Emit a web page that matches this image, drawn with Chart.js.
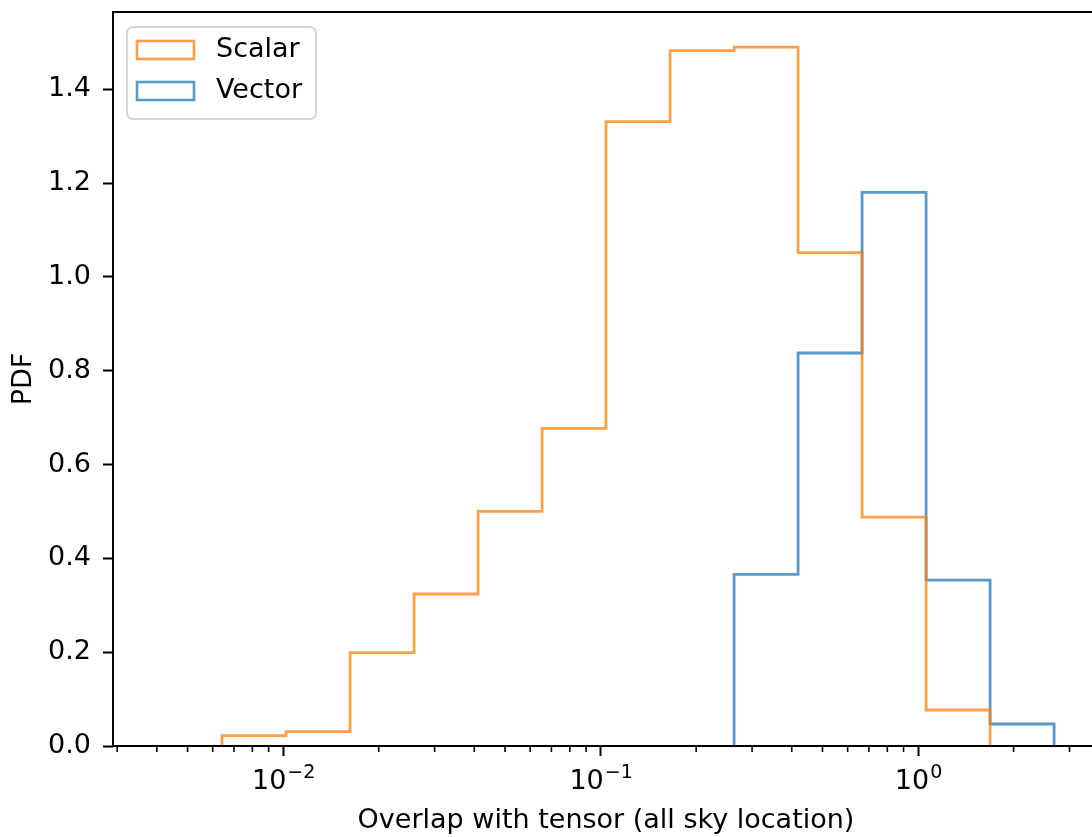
<!DOCTYPE html>
<html>
<head>
<meta charset="utf-8">
<title>Overlap with tensor</title>
<script src="https://cdn.jsdelivr.net/npm/chart.js@4.4.1/dist/chart.umd.min.js"></script>
<style>
    html, body { margin: 0; padding: 0; background: #fff; overflow: hidden; }
    #wrap { width: 1092px; height: 837px; overflow: hidden; }
    canvas { display: block; }
</style>
</head>
<body>
<div id="wrap"><canvas id="histChart" width="1110" height="837"></canvas></div>
<script>
// 分箱边界（对数均匀）
const binEdges = [0.00404, 0.00642, 0.01021, 0.01625, 0.02585, 0.04112, 0.06541,
                  0.1040, 0.1655, 0.2633, 0.4188, 0.6662, 1.060, 1.686, 2.682];

// 每个分箱的概率密度
const scalarPdf = [0, 0.022, 0.0305, 0.199, 0.324, 0.500, 0.677,
                   1.331, 1.482, 1.4895, 1.0515, 0.488, 0.0767, 0];
const vectorPdf = [0, 0, 0, 0, 0, 0, 0,
                   0, 0, 0.366, 0.8377, 1.180, 0.3536, 0.0469];

const seriesLabels = ['Scalar', 'Vector'];
const seriesColors = ['rgba(255, 127, 14, 0.75)', 'rgba(31, 119, 180, 0.75)'];

// 坐标轴刻度
const majorTicks = [0.01, 0.1, 1];
const majorTickBase = '10';
const majorTickExponents = ['−2', '−1', '0'];
const minorTicks = [0.003, 0.004, 0.005, 0.006, 0.007, 0.008, 0.009,
                    0.02, 0.03, 0.04, 0.05, 0.06, 0.07, 0.08, 0.09,
                    0.2, 0.3, 0.4, 0.5, 0.6, 0.7, 0.8, 0.9, 2, 3];
const yTicks = [0, 0.2, 0.4, 0.6, 0.8, 1.0, 1.2, 1.4];
const xRange = [0.002911, 3.715];
const yRange = [0, 1.5645];

Chart.defaults.font.family = '"DejaVu Sans", sans-serif';
Chart.defaults.color = '#000';

// 把直方图转换成阶梯折线的点
function stepPoints(edges, heights) {
    const first = heights.findIndex(h => h > 0);
    const last = heights.length - 1 - [...heights].reverse().findIndex(h => h > 0);
    const pts = [{ x: edges[first], y: 0 }];
    for (let i = first; i <= last; i++) {
        pts.push({ x: edges[i], y: heights[i] });
        pts.push({ x: edges[i + 1], y: heights[i] });
    }
    pts.push({ x: edges[last + 1], y: 0 });
    return pts;
}

// 边框、次刻度、指数刻度标签和图例
const framePlugin = {
    id: 'frameAndLegend',
    afterDraw(chart) {
        const { ctx, chartArea: a, scales } = chart;
        const x = scales.x;
        ctx.save();

        ctx.strokeStyle = '#000';
        ctx.lineWidth = 1.6;
        minorTicks.forEach(v => {
            if (v < x.min || v > x.max) return;
            const px = x.getPixelForValue(v);
            ctx.beginPath();
            ctx.moveTo(px, a.bottom);
            ctx.lineTo(px, a.bottom + 6);
            ctx.stroke();
        });

        ctx.lineWidth = 2;
        ctx.strokeRect(a.left, a.top, a.right - a.left, a.bottom - a.top);

        // x 轴标签：10 的幂
        ctx.fillStyle = '#000';
        ctx.textBaseline = 'alphabetic';
        ctx.textAlign = 'left';
        majorTicks.forEach((v, i) => {
            const px = x.getPixelForValue(v);
            ctx.font = '27px "DejaVu Sans"';
            const w1 = ctx.measureText(majorTickBase).width;
            ctx.font = '19px "DejaVu Sans"';
            const w2 = ctx.measureText(majorTickExponents[i]).width;
            const start = px - (w1 + w2) / 2;
            ctx.font = '27px "DejaVu Sans"';
            ctx.fillText(majorTickBase, start, a.bottom + 43);
            ctx.font = '19px "DejaVu Sans"';
            ctx.fillText(majorTickExponents[i], start + w1 + 1, a.bottom + 32);
        });

        // 图例框
        const lx = 127, ly = 27, lw = 189, lh = 92;
        ctx.beginPath();
        ctx.roundRect(lx, ly, lw, lh, 6);
        ctx.fillStyle = 'rgba(255, 255, 255, 0.8)';
        ctx.fill();
        ctx.strokeStyle = '#d6d6d6';
        ctx.lineWidth = 2;
        ctx.stroke();

        ctx.font = '27px "DejaVu Sans"';
        ctx.textBaseline = 'middle';
        chart.data.datasets.forEach((ds, i) => {
            const cy = 50 + i * 41;
            ctx.strokeStyle = ds.borderColor;
            ctx.lineWidth = 2.6;
            ctx.strokeRect(137, cy - 9, 57, 18);
            ctx.fillStyle = '#000';
            ctx.fillText(ds.label, 216, cy);
        });

        ctx.restore();
    }
};

new Chart(document.getElementById('histChart'), {
    type: 'line',
    data: {
        datasets: [scalarPdf, vectorPdf].map((h, i) => ({
            label: seriesLabels[i],
            data: stepPoints(binEdges, h),
            borderColor: seriesColors[i],
            borderWidth: 2.8,
            pointRadius: 0,
            fill: false,
            tension: 0
        }))
    },
    options: {
        responsive: false,
        devicePixelRatio: 1,
        animation: false,
        events: [],
        layout: { padding: { left: 0, right: 11, top: 12, bottom: 0 } },
        plugins: {
            legend: { display: false },
            tooltip: { enabled: false }
        },
        scales: {
            x: {
                type: 'logarithmic',
                min: xRange[0],
                max: xRange[1],
                afterBuildTicks: s => { s.ticks = majorTicks.map(v => ({ value: v, major: true })); },
                afterFit: s => {
                    s.height = 91;
                    s.paddingLeft = 0;
                    s.paddingRight = 0;
                },
                ticks: {
                    callback: () => '',
                    font: { size: 27 },
                    padding: 6,
                    maxRotation: 0,
                    autoSkip: false
                },
                grid: {
                    drawOnChartArea: false,
                    tickLength: 10,
                    tickWidth: 2,
                    tickColor: '#000'
                },
                border: { display: false },
                title: {
                    display: true,
                    text: 'Overlap with tensor (all sky location)',
                    font: { size: 27 },
                    color: '#000',
                    padding: { top: 0, bottom: 0 }
                }
            },
            y: {
                min: yRange[0],
                max: yRange[1],
                afterBuildTicks: s => { s.ticks = yTicks.map(v => ({ value: v })); },
                afterFit: s => {
                    s.width = 113;
                    s.paddingTop = 0;
                    s.paddingBottom = 0;
                },
                ticks: {
                    callback: v => v.toFixed(1),
                    font: { size: 27 },
                    color: '#000',
                    padding: 12
                },
                grid: {
                    drawOnChartArea: false,
                    tickLength: 10,
                    tickWidth: 2,
                    tickColor: '#000'
                },
                border: { display: false },
                title: {
                    display: true,
                    text: 'PDF',
                    font: { size: 27 },
                    color: '#000',
                    padding: { top: 8, bottom: 0 }
                }
            }
        }
    },
    plugins: [framePlugin]
});
</script>
</body>
</html>
